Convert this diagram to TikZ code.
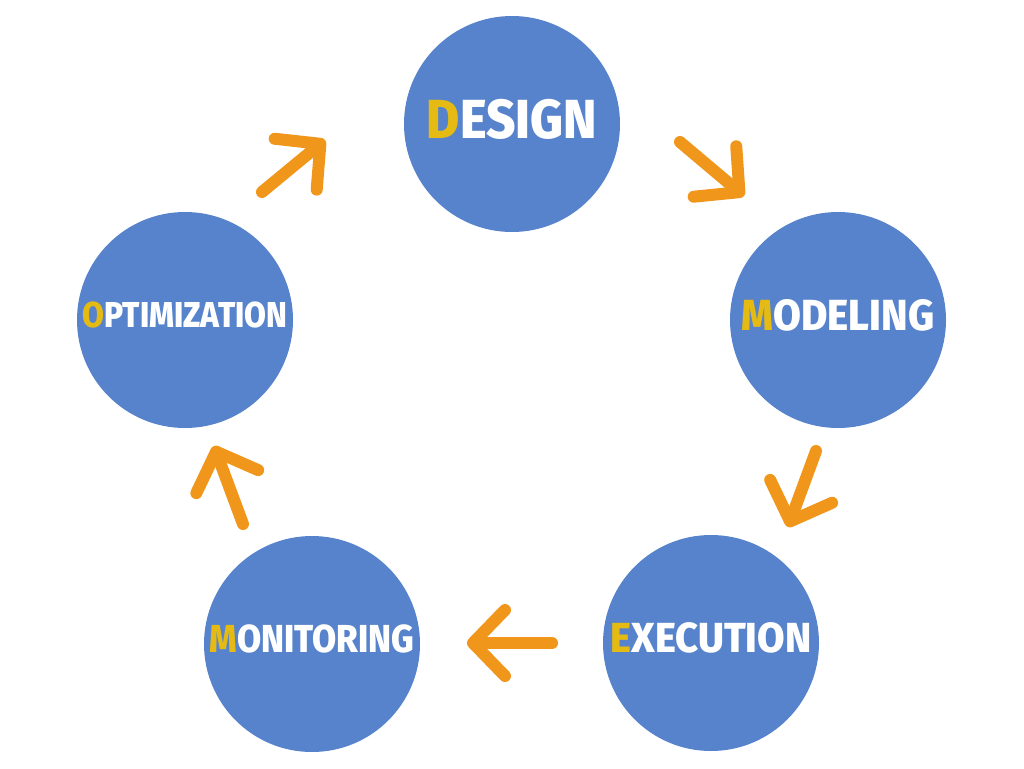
\documentclass[tikz,border=0pt]{standalone}
\usepackage{fontspec}
\setmainfont{Fira Sans}[BoldFont={Fira Sans ExtraBold}, FakeStretch=0.88]
\usepackage{tikz}
\usetikzlibrary{arrows.meta}
\definecolor{stageblue}{HTML}{5683CB}
\definecolor{flowor}{HTML}{F0961A}
\definecolor{initial}{HTML}{E5BA12}
\tikzstyle{stage} = [circle, fill=stageblue, minimum size=216pt, inner sep=0pt, text=white, text depth=10pt]
\tikzstyle{flow} = [draw=flowor, line width=12pt, line cap=round, -{Straight Barb[length=32pt, width=66pt, round]}]
\newcommand{\init}[3]{\scalebox{#1}[1]{\bfseries\textcolor{initial}{#2}#3}}

\begin{document}
\begin{tikzpicture}[x=1pt, y=-1pt]
        \useasboundingbox (0,0) rectangle (1024,768);
        \node (design) [stage, font=\fontsize{55}{55}\selectfont] at (512,124) {\init{1.05}{D}{ESIGN}};
        \node (modeling) [stage, font=\fontsize{43.5}{43.5}\selectfont] at (838,320) {\init{1.055}{M}{ODELING}};
        \node (execution) [stage, font=\fontsize{42}{42}\selectfont] at (711,643) {\init{1.08}{E}{XECUTION}};
        \node (monitoring) [stage, font=\fontsize{39}{39}\selectfont] at (312,644) {\init{1.02}{M}{ONITORING}};
        \node (optimization) [stage, font=\fontsize{36}{36}\selectfont] at (185,320) {\init{1.0}{O}{PTIMIZATION}};
        \coordinate (dm-a) at (680,142);
        \coordinate (dm-b) at (744,196);
        \coordinate (me-a) at (816,451);
        \coordinate (me-b) at (788,527);
        \coordinate (em-a) at (552,643);
        \coordinate (em-b) at (467,643);
        \coordinate (mo-a) at (243,524);
        \coordinate (mo-b) at (214,446);
        \coordinate (od-a) at (262,192);
        \coordinate (od-b) at (325,140);
        \draw [flow] (dm-a) -- (dm-b);
        \draw [flow] (me-a) -- (me-b);
        \draw [flow] (em-a) -- (em-b);
        \draw [flow] (mo-a) -- (mo-b);
        \draw [flow] (od-a) -- (od-b);
    \end{tikzpicture}
\end{document}
